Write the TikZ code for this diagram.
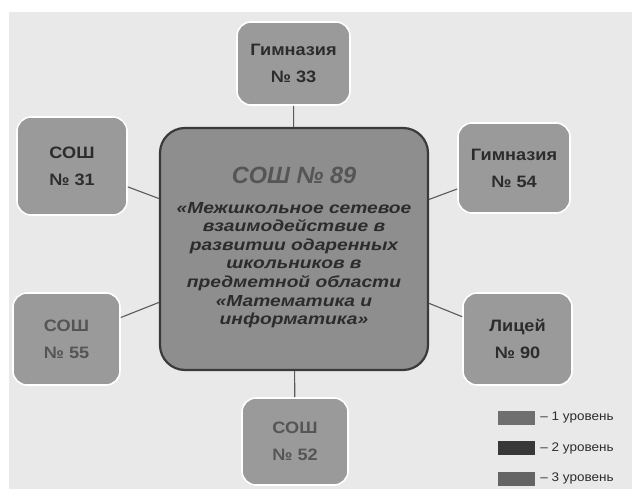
\documentclass[tikz,border=0pt]{standalone}
\usepackage{fontspec}
\setmainfont{Liberation Sans}
\newfontfamily\widefont[FakeStretch=1.2]{Liberation Sans}
\newfontfamily\boxfont[FakeStretch=1.1]{Liberation Sans}
\newfontfamily\legfont[FakeStretch=1.08]{Liberation Sans}
\usetikzlibrary{positioning}
\definecolor{pagegray}{HTML}{E9E9E9}
\definecolor{boxgray}{HTML}{9A9A9A}
\definecolor{hubgray}{HTML}{8E8E8E}
\definecolor{hubedge}{HTML}{3A3A3A}
\definecolor{txtdark}{HTML}{2C2C2C}
\definecolor{txtpale}{HTML}{555555}
\definecolor{linkgray}{HTML}{5A5A5A}

\begin{document}
\begin{tikzpicture}[x=1pt,y=-1pt,
  school/.style n args={3}{draw=white,line width=1.6pt,fill=boxgray,rounded corners=14pt,
    minimum width=#1pt,minimum height=#2pt,text=#3,align=center,
    font=\boxfont\bfseries\fontsize{16.5}{27}\selectfont,inner sep=0pt},
  hub/.style={draw=hubedge,line width=2.2pt,fill=hubgray,rounded corners=25pt,
    minimum width=268pt,minimum height=242pt},
  link/.style={draw=linkgray,line width=1.1pt},
  legbox/.style={minimum width=37pt,minimum height=14pt,inner sep=0pt,fill=#1},
  legtext/.style={text=txtdark,font=\legfont\fontsize{12.5}{14}\selectfont,inner sep=0pt}]
\useasboundingbox (0,0) rectangle (632,489);
\fill[pagegray] (9,12) rectangle (632,489);
% schools round the hub
\node[hub] (c89) at (294,249) {};
\node[school={113}{83}{txtdark}] (g33) at (293.5,63.5) {Гимназия\\№ 33};
\node[school={110}{98}{txtdark}] (s31) at (72,166) {СОШ\\№ 31};
\node[school={107}{92}{txtpale}] (s55) at (66.5,339) {СОШ\\№ 55};
\node[school={112}{90}{txtdark}] (g54) at (514,168) {Гимназия\\№ 54};
\node[school={109}{92}{txtdark}] (l90) at (517.5,339) {Лицей\\№ 90};
\node[school={106}{87}{txtpale}] (s52) at (295,441.5) {СОШ\\№ 52};
\foreach \s in {g33,s31,s55,g54,l90,s52}
  \draw[link] (\s) -- (c89);
% hub text
\node[text=txtpale,font=\bfseries\itshape\fontsize{23.5}{28}\selectfont] (c89title) at (294,175) {СОШ № 89};
\node[text=txtdark,align=center,font=\widefont\bfseries\itshape\fontsize{16}{18.6}\selectfont] (c89text) at (294,265)
  {«Межшкольное сетевое\\взаимодействие в\\развитии одаренных\\школьников в\\предметной области\\«Математика и\\информатика»};
% legend
\foreach \i/\c/\y in {1/6F6F6F/417.5,2/383838/448,3/646464/478.5} {
  \definecolor{leg\i}{HTML}{\c}
  \node[legbox=leg\i] (leg\i) at (516.5,\y) {};
  \node[legtext,right=5pt of leg\i] (leg\i text) {– \i\ уровень};
}
\end{tikzpicture}
\end{document}
